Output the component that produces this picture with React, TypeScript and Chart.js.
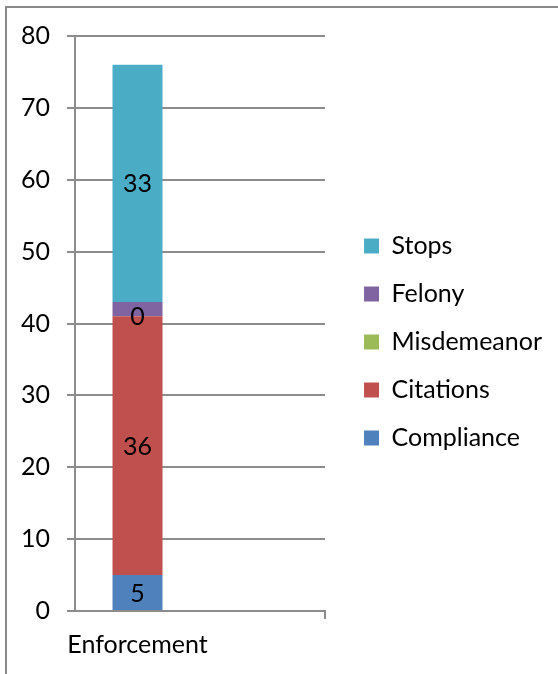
import React, { useEffect, useRef } from 'react';
import { Chart, registerables } from 'chart.js';

Chart.register(...registerables);

const categories = ['Enforcement', ''];
const compliance = [5, null];
const citations = [36, null];
const misdemeanor = [0, null];
const felony = [2, null];
const stops = [33, null];

const seriesNames = ['Compliance', 'Citations', 'Misdemeanor', 'Felony', 'Stops'];
const seriesValues = [compliance, citations, misdemeanor, felony, stops];
const seriesColors = ['#4F81BD', '#C0504D', '#9BBB59', '#8064A2', '#4BACC6'];
const seriesShowLabel = [true, true, true, false, true];

const yMin = 0;
const yMax = 80;
const yStep = 10;

const FONT = 'Lato';
const FS = 25;
const GRID = '#8c8c8c';

const valueLabels = {
  id: 'valueLabels',
  afterDatasetsDraw(chart: any) {
    const ctx = chart.ctx;
    ctx.save();
    ctx.font = `${FS}px ${FONT}`;
    ctx.fillStyle = '#000';
    ctx.textAlign = 'center';
    ctx.textBaseline = 'middle';
    chart.data.datasets.forEach((ds: any, di: number) => {
      if (!seriesShowLabel[di]) return;
      const meta = chart.getDatasetMeta(di);
      meta.data.forEach((el: any, i: number) => {
        const v = ds.data[i];
        if (v === null || v === undefined) return;
        const p = el.getProps(['x', 'y', 'base'], true);
        ctx.fillText(String(v), p.x, (p.y + p.base) / 2 + 1);
      });
    });
    ctx.restore();
  },
};

export default function App() {
  const ref = useRef<HTMLCanvasElement | null>(null);
  useEffect(() => {
    if (!ref.current) return;
    const chart = new Chart(ref.current, {
      type: 'bar',
      data: {
        labels: categories,
        datasets: seriesNames.map((n, i) => ({
          label: n,
          data: seriesValues[i],
          backgroundColor: seriesColors[i],
          borderWidth: 0,
          barPercentage: 1,
          categoryPercentage: 0.4,
        })),
      },
      options: {
        responsive: false,
        animation: false,
        layout: { padding: { top: 36, bottom: 8, left: 0, right: 6 } },
        plugins: {
          tooltip: { enabled: false },
          legend: {
            position: 'right',
            fullSize: false,
            reverse: true,
            maxWidth: 300,
            title: { display: true, text: '', font: { size: 10 }, padding: { top: 25, bottom: 0 } },
            labels: {
              boxWidth: 15,
              boxHeight: 15,
              padding: 23,
              color: '#000',
              font: { family: FONT, size: FS },
            },
          },
        },
        scales: {
          x: {
            stacked: true,
            offset: true,
            grid: {
              offset: true,
              drawOnChartArea: false,
              drawTicks: true,
              tickLength: 8,
              color: GRID,
              lineWidth: 2,
            },
            border: { display: true, color: GRID, width: 2 },
            ticks: { color: '#000', font: { family: FONT, size: FS }, padding: 11, maxRotation: 0 },
            afterFit: (s: any) => { s.height = 55; },
          },
          y: {
            stacked: true,
            min: yMin,
            max: yMax,
            ticks: { stepSize: yStep, color: '#000', font: { family: FONT, size: FS }, padding: 17 },
            grid: { color: GRID, lineWidth: 2, tickLength: 8 },
            border: { display: true, color: GRID, width: 2 },
            afterFit: (s: any) => { s.width = 75; },
          },
          gap: {
            type: 'linear',
            position: 'right',
            display: true,
            ticks: { display: false },
            grid: { display: false },
            border: { display: false },
            afterFit: (s: any) => { s.width = 16; },
          },
        },
      },
      plugins: [valueLabels],
    } as any);
    return () => chart.destroy();
  }, []);

  return (
    <div style={{ position: 'fixed', left: 0, top: 0, width: 558, height: 674, overflow: 'hidden', background: '#fff' }}>
      <div style={{ position: 'absolute', left: 5, top: 6, width: 700, height: 800, border: '2px solid #898989' }} />
      <canvas ref={ref} width={558} height={674} style={{ position: 'absolute', left: 0, top: 0, width: 558, height: 674 }} />
    </div>
  );
}
